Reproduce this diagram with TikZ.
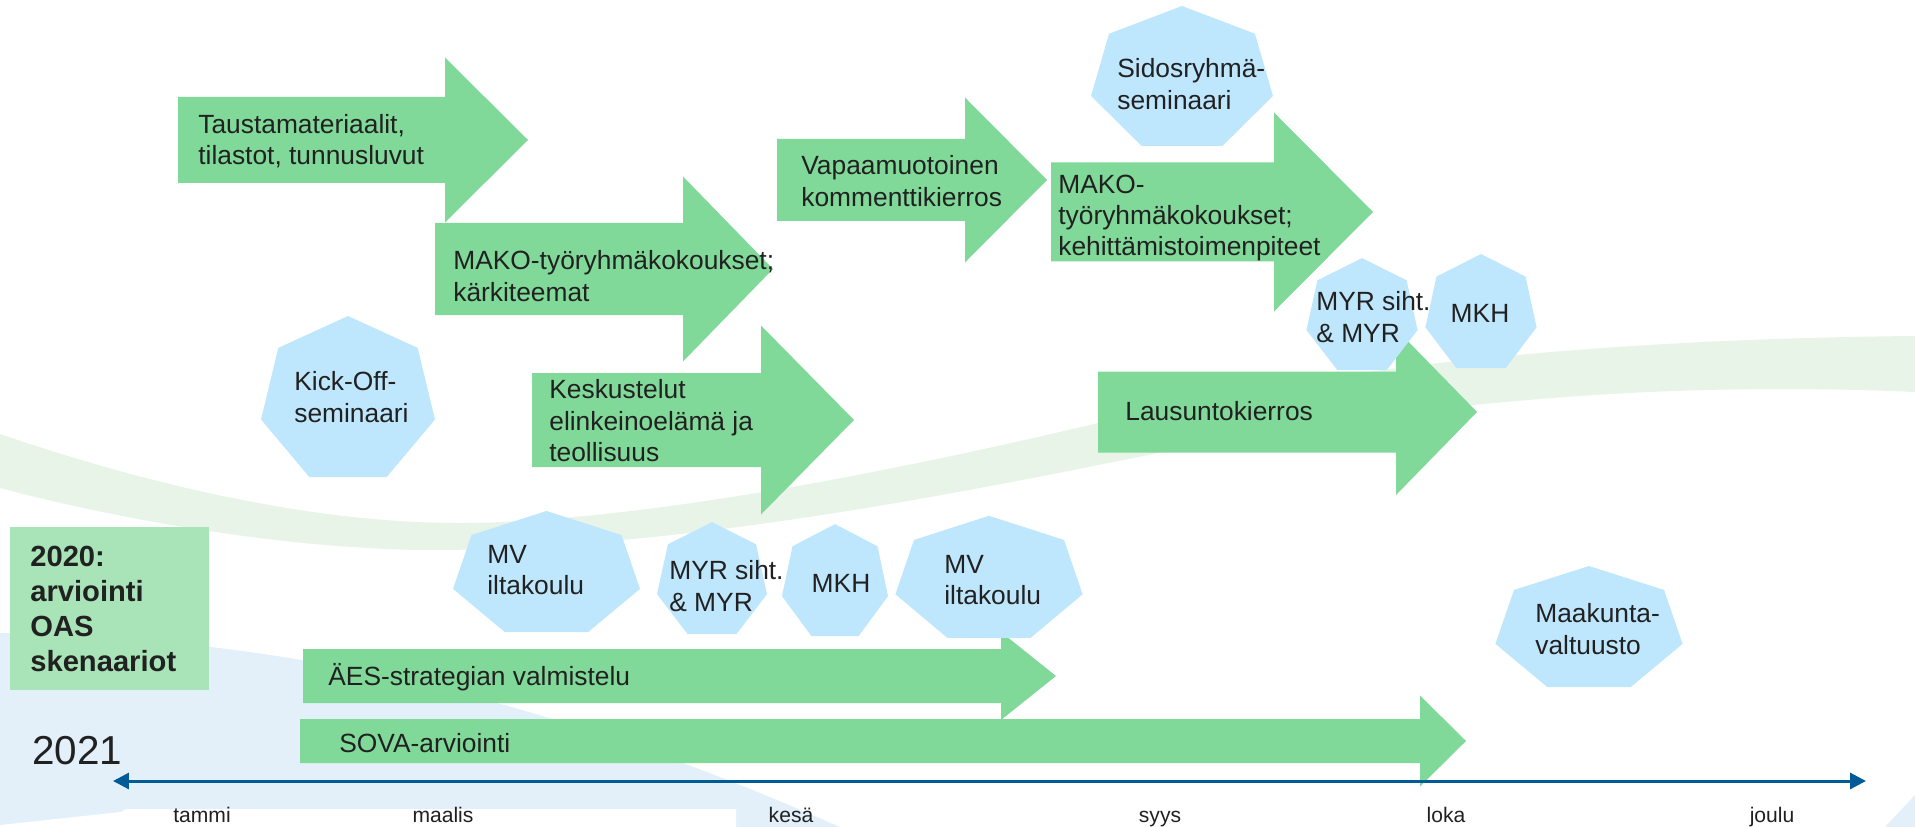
\documentclass[tikz,border=0pt]{standalone}
\usepackage{fontspec}
\setmainfont{Liberation Sans}
\usetikzlibrary{arrows.meta}

\definecolor{arrowgreen}{RGB}{128,217,152}
\definecolor{heptblue}{RGB}{190,230,252}
\definecolor{boxgreen}{RGB}{169,228,185}
\definecolor{axisblue}{RGB}{0,91,150}
\definecolor{swooshgreen}{RGB}{233,244,233}
\definecolor{bgblue}{RGB}{227,240,250}
\definecolor{txtgray}{RGB}{33,33,33}

% block arrow: x left, x head, x tip, y middle, half body, half head
\newcommand{\blockarrow}[6]{%
  \fill[arrowgreen] (#1,#4-#5) -- (#2,#4-#5) -- (#2,#4-#6) -- (#3,#4)
    -- (#2,#4+#6) -- (#2,#4+#5) -- (#1,#4+#5) -- cycle;}
% heptagon: centre x, centre y, x radius, y radius
\newcommand{\heptagon}[4]{%
  \fill[heptblue,shift={(#1,#2)}] (-90:#3 and #4)
    \foreach \k in {1,...,6} { -- (-90+\k*360/7:#3 and #4) } -- cycle;}

\begin{document}
\begin{tikzpicture}[x=0.02cm,y=-0.02cm,
  txt/.style={inner sep=0pt,anchor=west,align=left,text=txtgray,font=\fontsize{15}{17.9}\selectfont},
  month/.style={inner sep=0pt,anchor=base,text=txtgray,font=\fontsize{12}{14}\selectfont}]
\useasboundingbox (0,0) rectangle (1915,827);

% Background
\fill[bgblue] (0,633) .. controls (350,638) and (620,730) .. (840,827) -- (0,827) -- cycle;
\fill[bgblue] (1885,827) -- (1915,795) -- (1915,827) -- cycle;
\fill[swooshgreen] (0,434) .. controls (120,475) and (300,525) .. (470,523)
  .. controls (650,520) and (900,470) .. (1098,423)
  .. controls (1250,385) and (1500,340) .. (1915,336) -- (1915,392)
  .. controls (1650,380) and (1400,405) .. (1158,453)
  .. controls (950,495) and (700,545) .. (450,550)
  .. controls (300,552) and (120,520) .. (0,488) -- cycle;
\fill[white] (0,827) -- (0,825) -- (121,812) -- (126,809) -- (736,809) -- (736,827) -- cycle;

% Block arrows
\blockarrow{178}{445}{528}{140}{43}{82.5}
\blockarrow{435}{683}{773}{269}{46}{92.5}
\blockarrow{777}{965}{1047}{180}{41}{82.5}
\blockarrow{532}{761}{854}{420}{47}{94.5}
\blockarrow{1051}{1274}{1373}{212}{49.5}{99.5}
\blockarrow{1098}{1396}{1477}{412}{40.5}{83}
\blockarrow{303}{1001}{1056}{676}{27}{44}
\blockarrow{300}{1420}{1466}{741}{22}{45.5}

\node[txt] (tausta) at (198,141) {Taustamateriaalit,\\tilastot, tunnusluvut};
\node[txt] (karki) at (453,276) {MAKO-työryhmäkokoukset;\\kärkiteemat};
\node[txt] (vapaa) at (801,181) {Vapaamuotoinen\\kommenttikierros};
\node[txt] (kesk) at (549,421) {Keskustelut\\elinkeinoelämä ja\\teollisuus};
\node[txt] (kehit) at (1058,218) {MAKO-\\työryhmäkokoukset;\\kehittämistoimenpiteet};
\node[txt] (lausunto) at (1125,411) {Lausuntokierros};
\node[txt] (aes) at (328,677) {ÄES-strategian valmistelu};
\node[txt] (sova) at (339,743) {SOVA-arviointi};

% Meetings
\heptagon{1182}{79.6}{93.3}{73.6}
\heptagon{348}{400.7}{89.2}{84.7}
\heptagon{546.5}{574.7}{95.9}{63.7}
\heptagon{712}{581}{56.4}{58.9}
\heptagon{835}{583}{54.4}{58.9}
\heptagon{989}{580}{96}{64.2}
\heptagon{1362}{317}{57}{58.9}
\heptagon{1481}{314}{57}{60}
\heptagon{1589}{629.7}{96}{63.7}

\node[txt] (sidos) at (1117,84) {Sidosryhmä-\\seminaari};
\node[txt] (kickoff) at (294,397) {Kick-Off-\\seminaari};
\node[txt] (mva) at (487,570) {MV\\iltakoulu};
\node[txt] (myra) at (669,586) {MYR siht.\\\& MYR};
\node[txt,anchor=center] (mkha) at (841,583) {MKH};
\node[txt] (mvb) at (944,580) {MV\\iltakoulu};
\node[txt] (myrb) at (1316,317) {MYR siht.\\\& MYR};
\node[txt,anchor=center] (mkhb) at (1480,313) {MKH};
\node[txt] (maak) at (1535,629) {Maakunta-\\valtuusto};

% Earlier year
\node[fill=boxgreen,anchor=north west,text width=3.18cm,inner xsep=0.4cm,inner ysep=0pt,
  minimum height=3.26cm,align=left,text=txtgray,font=\fontsize{16.6}{19.9}\selectfont\bfseries]
  (oas) at (10,527) {2020:\\arviointi\\OAS\\skenaariot};
\node[txt,font=\fontsize{23}{27}\selectfont] (year) at (32,751) {2021};

% Timeline
\coordinate (axl) at (113,781);
\coordinate (axr) at (1866,781);
\draw[axisblue,line width=1.7pt,{Triangle[length=0.32cm,width=0.32cm]}-{Triangle[length=0.32cm,width=0.32cm]}] (axl) -- (axr);

\node[month] (tammi) at (202,822) {tammi};
\node[month] (maalis) at (443,822) {maalis};
\node[month] (kesa) at (791,822) {kesä};
\node[month] (syys) at (1160,822) {syys};
\node[month] (loka) at (1446,822) {loka};
\node[month] (joulu) at (1772,822) {joulu};
\end{tikzpicture}
\end{document}
